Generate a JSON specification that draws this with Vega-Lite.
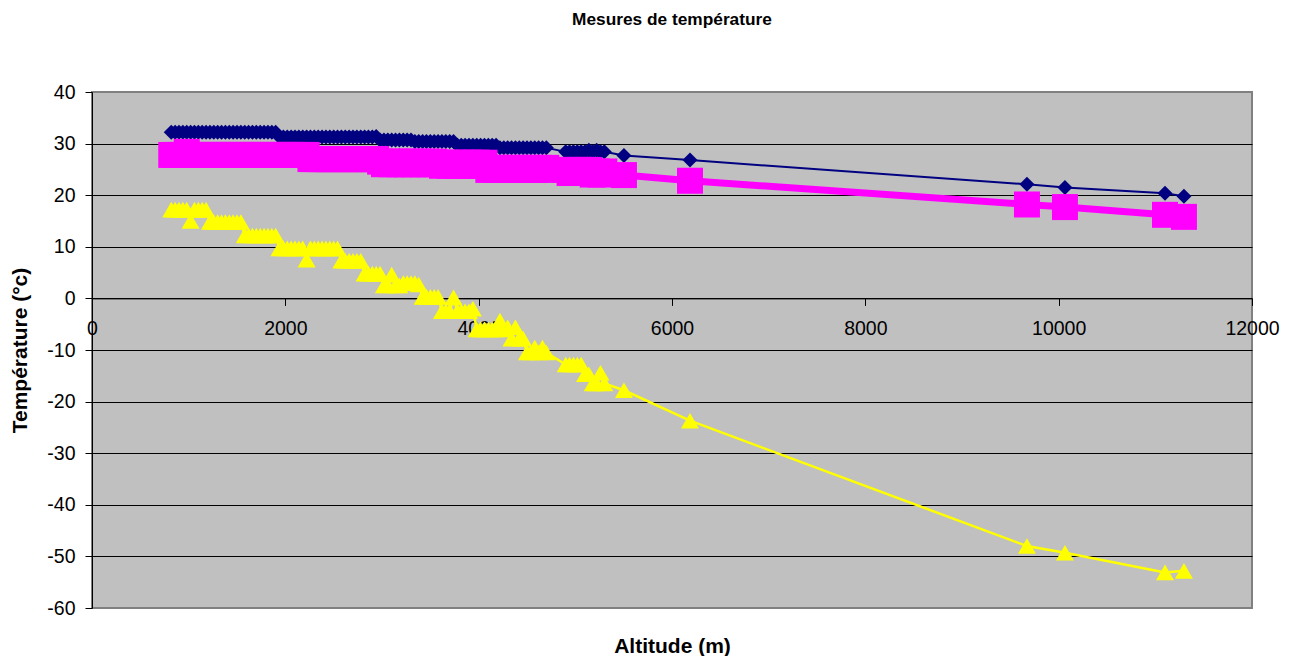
{
 "$schema": "https://vega.github.io/schema/vega-lite/v6.json",
 "width": 1160,
 "height": 516,
 "autosize": "none",
 "padding": {"left": 92, "top": 92, "right": 46, "bottom": 48},
 "background": "white",
 "config": {"view": {"fill": "#C0C0C0", "stroke": "#808080", "strokeWidth": 2}, "font": "Liberation Sans"},
 "title": {"text": "Mesures de température", "fontSize": 17.3, "fontWeight": "bold", "font": "Liberation Sans", "color": "black", "anchor": "middle", "offset": 54},
 "data": {"values": [
{"s":"Série1","a":820,"t":32.2},{"s":"Série1","a":860,"t":32.2},{"s":"Série1","a":900,"t":32.2},{"s":"Série1","a":940,"t":32.2},{"s":"Série1","a":980,"t":32.2},{"s":"Série1","a":1020,"t":32.2},{"s":"Série1","a":1060,"t":32.2},{"s":"Série1","a":1100,"t":32.2},{"s":"Série1","a":1140,"t":32.2},{"s":"Série1","a":1180,"t":32.2},
{"s":"Série1","a":1220,"t":32.2},{"s":"Série1","a":1260,"t":32.2},{"s":"Série1","a":1300,"t":32.2},{"s":"Série1","a":1340,"t":32.2},{"s":"Série1","a":1380,"t":32.2},{"s":"Série1","a":1420,"t":32.2},{"s":"Série1","a":1460,"t":32.2},{"s":"Série1","a":1500,"t":32.2},{"s":"Série1","a":1540,"t":32.2},{"s":"Série1","a":1580,"t":32.2},
{"s":"Série1","a":1620,"t":32.2},{"s":"Série1","a":1660,"t":32.2},{"s":"Série1","a":1700,"t":32.2},{"s":"Série1","a":1740,"t":32.2},{"s":"Série1","a":1780,"t":32.2},{"s":"Série1","a":1820,"t":32.2},{"s":"Série1","a":1860,"t":32.2},{"s":"Série1","a":1900,"t":32.2},{"s":"Série1","a":1940,"t":31.3},{"s":"Série1","a":1980,"t":31.3},
{"s":"Série1","a":2020,"t":31.3},{"s":"Série1","a":2060,"t":31.3},{"s":"Série1","a":2100,"t":31.3},{"s":"Série1","a":2140,"t":31.3},{"s":"Série1","a":2180,"t":31.3},{"s":"Série1","a":2220,"t":31.3},{"s":"Série1","a":2260,"t":31.3},{"s":"Série1","a":2300,"t":31.3},{"s":"Série1","a":2340,"t":31.3},{"s":"Série1","a":2380,"t":31.3},
{"s":"Série1","a":2420,"t":31.3},{"s":"Série1","a":2460,"t":31.3},{"s":"Série1","a":2500,"t":31.3},{"s":"Série1","a":2540,"t":31.3},{"s":"Série1","a":2580,"t":31.3},{"s":"Série1","a":2620,"t":31.3},{"s":"Série1","a":2660,"t":31.3},{"s":"Série1","a":2700,"t":31.3},{"s":"Série1","a":2740,"t":31.3},{"s":"Série1","a":2780,"t":31.3},
{"s":"Série1","a":2820,"t":31.3},{"s":"Série1","a":2860,"t":31.3},{"s":"Série1","a":2900,"t":31.3},{"s":"Série1","a":2940,"t":31.4},{"s":"Série1","a":2980,"t":30.7},{"s":"Série1","a":3020,"t":30.7},{"s":"Série1","a":3060,"t":30.7},{"s":"Série1","a":3100,"t":30.7},{"s":"Série1","a":3140,"t":30.7},{"s":"Série1","a":3180,"t":30.7},
{"s":"Série1","a":3220,"t":30.7},{"s":"Série1","a":3260,"t":30.7},{"s":"Série1","a":3300,"t":30.7},{"s":"Série1","a":3340,"t":30.4},{"s":"Série1","a":3380,"t":30.4},{"s":"Série1","a":3420,"t":30.4},{"s":"Série1","a":3460,"t":30.4},{"s":"Série1","a":3500,"t":30.4},{"s":"Série1","a":3540,"t":30.4},{"s":"Série1","a":3580,"t":30.4},
{"s":"Série1","a":3620,"t":30.4},{"s":"Série1","a":3660,"t":30.4},{"s":"Série1","a":3700,"t":30.4},{"s":"Série1","a":3740,"t":30.4},{"s":"Série1","a":3780,"t":29.7},{"s":"Série1","a":3820,"t":29.7},{"s":"Série1","a":3860,"t":29.7},{"s":"Série1","a":3900,"t":29.7},{"s":"Série1","a":3940,"t":29.7},{"s":"Série1","a":3980,"t":29.7},
{"s":"Série1","a":4020,"t":29.7},{"s":"Série1","a":4060,"t":29.7},{"s":"Série1","a":4100,"t":29.7},{"s":"Série1","a":4140,"t":29.7},{"s":"Série1","a":4180,"t":29.7},{"s":"Série1","a":4220,"t":29.2},{"s":"Série1","a":4260,"t":29.2},{"s":"Série1","a":4300,"t":29.2},{"s":"Série1","a":4340,"t":29.2},{"s":"Série1","a":4380,"t":29.2},
{"s":"Série1","a":4420,"t":29.2},{"s":"Série1","a":4460,"t":29.2},{"s":"Série1","a":4500,"t":29.2},{"s":"Série1","a":4540,"t":29.2},{"s":"Série1","a":4580,"t":29.2},{"s":"Série1","a":4620,"t":29.2},{"s":"Série1","a":4660,"t":29.2},{"s":"Série1","a":4700,"t":29.2},
{"s":"Série1","a":4900,"t":28.4},{"s":"Série1","a":4940,"t":28.4},{"s":"Série1","a":4980,"t":28.4},{"s":"Série1","a":5020,"t":28.4},{"s":"Série1","a":5060,"t":28.4},{"s":"Série1","a":5100,"t":28.4},{"s":"Série1","a":5140,"t":28.7},{"s":"Série1","a":5180,"t":28.4},{"s":"Série1","a":5220,"t":28.7},{"s":"Série1","a":5260,"t":28.4},{"s":"Série1","a":5300,"t":28.4},
{"s":"Série1","a":5503,"t":27.7},{"s":"Série1","a":6186,"t":26.8},{"s":"Série1","a":9672,"t":22.1},{"s":"Série1","a":10065,"t":21.5},{"s":"Série1","a":11100,"t":20.4},{"s":"Série1","a":11296,"t":19.8},
{"s":"Série2","a":820,"t":27.8},{"s":"Série2","a":860,"t":27.8},{"s":"Série2","a":900,"t":27.8},{"s":"Série2","a":940,"t":27.8},{"s":"Série2","a":980,"t":28.4},{"s":"Série2","a":1020,"t":27.8},{"s":"Série2","a":1060,"t":27.8},{"s":"Série2","a":1100,"t":27.8},{"s":"Série2","a":1140,"t":27.8},{"s":"Série2","a":1180,"t":27.8},
{"s":"Série2","a":1220,"t":27.8},{"s":"Série2","a":1260,"t":27.8},{"s":"Série2","a":1300,"t":27.8},{"s":"Série2","a":1340,"t":27.8},{"s":"Série2","a":1380,"t":27.8},{"s":"Série2","a":1420,"t":27.8},{"s":"Série2","a":1460,"t":27.8},{"s":"Série2","a":1500,"t":27.8},{"s":"Série2","a":1540,"t":27.8},{"s":"Série2","a":1580,"t":27.8},
{"s":"Série2","a":1620,"t":27.8},{"s":"Série2","a":1660,"t":27.8},{"s":"Série2","a":1700,"t":27.8},{"s":"Série2","a":1740,"t":27.8},{"s":"Série2","a":1780,"t":27.8},{"s":"Série2","a":1820,"t":27.8},{"s":"Série2","a":1860,"t":27.8},{"s":"Série2","a":1900,"t":27.8},{"s":"Série2","a":1940,"t":27.8},{"s":"Série2","a":1980,"t":27.8},
{"s":"Série2","a":2020,"t":27.8},{"s":"Série2","a":2060,"t":27.8},{"s":"Série2","a":2100,"t":27.8},{"s":"Série2","a":2140,"t":27.8},{"s":"Série2","a":2180,"t":27.8},{"s":"Série2","a":2220,"t":27.8},{"s":"Série2","a":2260,"t":27.0},{"s":"Série2","a":2300,"t":27.0},{"s":"Série2","a":2340,"t":27.0},{"s":"Série2","a":2380,"t":27.0},
{"s":"Série2","a":2420,"t":27.0},{"s":"Série2","a":2460,"t":27.0},{"s":"Série2","a":2500,"t":27.0},{"s":"Série2","a":2540,"t":27.0},{"s":"Série2","a":2580,"t":27.0},{"s":"Série2","a":2620,"t":27.0},{"s":"Série2","a":2660,"t":27.0},{"s":"Série2","a":2700,"t":27.0},{"s":"Série2","a":2740,"t":27.0},{"s":"Série2","a":2780,"t":27.0},
{"s":"Série2","a":2820,"t":27.0},{"s":"Série2","a":2860,"t":27.0},{"s":"Série2","a":2900,"t":27.0},{"s":"Série2","a":2940,"t":27.0},{"s":"Série2","a":2980,"t":26.5},{"s":"Série2","a":3020,"t":26.0},{"s":"Série2","a":3060,"t":26.5},{"s":"Série2","a":3100,"t":26.0},{"s":"Série2","a":3140,"t":26.5},{"s":"Série2","a":3180,"t":26.0},
{"s":"Série2","a":3220,"t":26.5},{"s":"Série2","a":3260,"t":26.0},{"s":"Série2","a":3300,"t":26.5},{"s":"Série2","a":3340,"t":26.0},{"s":"Série2","a":3380,"t":26.5},{"s":"Série2","a":3420,"t":26.0},{"s":"Série2","a":3460,"t":26.5},{"s":"Série2","a":3500,"t":26.0},{"s":"Série2","a":3540,"t":26.5},{"s":"Série2","a":3580,"t":26.3},
{"s":"Série2","a":3620,"t":25.7},{"s":"Série2","a":3660,"t":26.3},{"s":"Série2","a":3700,"t":25.7},{"s":"Série2","a":3740,"t":26.3},{"s":"Série2","a":3780,"t":25.7},{"s":"Série2","a":3820,"t":26.3},{"s":"Série2","a":3860,"t":25.7},{"s":"Série2","a":3900,"t":26.3},{"s":"Série2","a":3940,"t":25.7},{"s":"Série2","a":3980,"t":26.3},
{"s":"Série2","a":4020,"t":25.7},{"s":"Série2","a":4060,"t":26.3},{"s":"Série2","a":4100,"t":24.9},{"s":"Série2","a":4140,"t":25.3},{"s":"Série2","a":4180,"t":24.9},{"s":"Série2","a":4220,"t":25.3},{"s":"Série2","a":4260,"t":24.9},{"s":"Série2","a":4300,"t":25.3},{"s":"Série2","a":4340,"t":24.9},{"s":"Série2","a":4380,"t":25.3},
{"s":"Série2","a":4420,"t":24.9},{"s":"Série2","a":4460,"t":25.3},{"s":"Série2","a":4500,"t":24.9},{"s":"Série2","a":4540,"t":25.3},{"s":"Série2","a":4580,"t":24.9},{"s":"Série2","a":4620,"t":25.3},{"s":"Série2","a":4660,"t":24.9},{"s":"Série2","a":4700,"t":25.3},
{"s":"Série2","a":4900,"t":24.9},{"s":"Série2","a":4940,"t":24.3},{"s":"Série2","a":4980,"t":24.9},{"s":"Série2","a":5020,"t":24.3},{"s":"Série2","a":5060,"t":24.9},{"s":"Série2","a":5100,"t":24.3},{"s":"Série2","a":5140,"t":24.9},{"s":"Série2","a":5180,"t":24.0},{"s":"Série2","a":5220,"t":24.6},{"s":"Série2","a":5260,"t":24.0},{"s":"Série2","a":5300,"t":24.6},
{"s":"Série2","a":5503,"t":23.9},{"s":"Série2","a":6186,"t":22.8},{"s":"Série2","a":9672,"t":18.2},{"s":"Série2","a":10065,"t":17.7},{"s":"Série2","a":11100,"t":16.2},{"s":"Série2","a":11296,"t":15.8},
{"s":"Série3","a":820,"t":17.2},{"s":"Série3","a":860,"t":17.2},{"s":"Série3","a":900,"t":17.2},{"s":"Série3","a":940,"t":17.2},{"s":"Série3","a":980,"t":17.2},{"s":"Série3","a":1020,"t":15.0},{"s":"Série3","a":1060,"t":17.2},{"s":"Série3","a":1100,"t":17.2},{"s":"Série3","a":1140,"t":17.2},{"s":"Série3","a":1180,"t":17.2},
{"s":"Série3","a":1220,"t":14.8},{"s":"Série3","a":1260,"t":14.8},{"s":"Série3","a":1300,"t":14.8},{"s":"Série3","a":1340,"t":14.8},{"s":"Série3","a":1380,"t":14.8},{"s":"Série3","a":1420,"t":14.8},{"s":"Série3","a":1460,"t":14.8},{"s":"Série3","a":1500,"t":14.8},{"s":"Série3","a":1540,"t":14.8},{"s":"Série3","a":1580,"t":12.2},
{"s":"Série3","a":1620,"t":12.2},{"s":"Série3","a":1660,"t":12.2},{"s":"Série3","a":1700,"t":12.2},{"s":"Série3","a":1740,"t":12.2},{"s":"Série3","a":1780,"t":12.2},{"s":"Série3","a":1820,"t":12.2},{"s":"Série3","a":1860,"t":12.2},{"s":"Série3","a":1900,"t":12.2},{"s":"Série3","a":1940,"t":9.7},{"s":"Série3","a":1980,"t":9.7},
{"s":"Série3","a":2020,"t":9.7},{"s":"Série3","a":2060,"t":9.7},{"s":"Série3","a":2100,"t":9.7},{"s":"Série3","a":2140,"t":9.7},{"s":"Série3","a":2180,"t":9.7},{"s":"Série3","a":2220,"t":7.5},{"s":"Série3","a":2260,"t":9.7},{"s":"Série3","a":2300,"t":9.7},{"s":"Série3","a":2340,"t":9.7},{"s":"Série3","a":2380,"t":9.7},
{"s":"Série3","a":2420,"t":9.7},{"s":"Série3","a":2460,"t":9.7},{"s":"Série3","a":2500,"t":9.7},{"s":"Série3","a":2540,"t":9.7},{"s":"Série3","a":2580,"t":7.3},{"s":"Série3","a":2620,"t":7.3},{"s":"Série3","a":2660,"t":7.3},{"s":"Série3","a":2700,"t":7.3},{"s":"Série3","a":2740,"t":7.3},{"s":"Série3","a":2780,"t":7.3},
{"s":"Série3","a":2820,"t":4.8},{"s":"Série3","a":2860,"t":4.8},{"s":"Série3","a":2900,"t":4.8},{"s":"Série3","a":2940,"t":4.8},{"s":"Série3","a":2980,"t":4.8},{"s":"Série3","a":3020,"t":2.5},{"s":"Série3","a":3060,"t":2.5},{"s":"Série3","a":3100,"t":4.6},{"s":"Série3","a":3140,"t":2.5},{"s":"Série3","a":3180,"t":2.5},
{"s":"Série3","a":3220,"t":3.0},{"s":"Série3","a":3260,"t":3.0},{"s":"Série3","a":3300,"t":3.0},{"s":"Série3","a":3340,"t":3.0},{"s":"Série3","a":3380,"t":2.7},{"s":"Série3","a":3420,"t":0.3},{"s":"Série3","a":3460,"t":0.3},{"s":"Série3","a":3500,"t":0.3},{"s":"Série3","a":3540,"t":0.3},{"s":"Série3","a":3580,"t":0.3},
{"s":"Série3","a":3620,"t":-2.5},{"s":"Série3","a":3660,"t":-2.5},{"s":"Série3","a":3700,"t":-2.5},{"s":"Série3","a":3740,"t":0.2},{"s":"Série3","a":3780,"t":-2.5},{"s":"Série3","a":3820,"t":-2.5},{"s":"Série3","a":3860,"t":-2.5},{"s":"Série3","a":3900,"t":-2.5},{"s":"Série3","a":3940,"t":-2.0},{"s":"Série3","a":3980,"t":-6.0},
{"s":"Série3","a":4020,"t":-6.0},{"s":"Série3","a":4060,"t":-6.0},{"s":"Série3","a":4100,"t":-6.0},{"s":"Série3","a":4140,"t":-6.0},{"s":"Série3","a":4180,"t":-6.0},{"s":"Série3","a":4220,"t":-4.3},{"s":"Série3","a":4260,"t":-6.0},{"s":"Série3","a":4300,"t":-5.6},{"s":"Série3","a":4340,"t":-7.8},{"s":"Série3","a":4380,"t":-5.6},
{"s":"Série3","a":4420,"t":-7.8},{"s":"Série3","a":4460,"t":-7.8},{"s":"Série3","a":4500,"t":-10.5},{"s":"Série3","a":4540,"t":-10.5},{"s":"Série3","a":4580,"t":-9.5},{"s":"Série3","a":4620,"t":-10.5},{"s":"Série3","a":4660,"t":-9.5},{"s":"Série3","a":4700,"t":-10.5},
{"s":"Série3","a":4900,"t":-12.8},{"s":"Série3","a":4940,"t":-12.8},{"s":"Série3","a":4980,"t":-12.8},{"s":"Série3","a":5020,"t":-12.8},{"s":"Série3","a":5060,"t":-12.8},{"s":"Série3","a":5100,"t":-14.7},{"s":"Série3","a":5140,"t":-14.7},{"s":"Série3","a":5180,"t":-16.5},{"s":"Série3","a":5220,"t":-16.5},{"s":"Série3","a":5260,"t":-14.4},{"s":"Série3","a":5300,"t":-16.5},
{"s":"Série3","a":5503,"t":-17.8},{"s":"Série3","a":6186,"t":-23.7},{"s":"Série3","a":9672,"t":-48.0},{"s":"Série3","a":10065,"t":-49.3},{"s":"Série3","a":11100,"t":-53.1},{"s":"Série3","a":11296,"t":-52.8}
 ]},
 "encoding": {
  "x": {"field": "a", "type": "quantitative", "scale": {"domain": [0, 12000], "nice": false},
   "axis": {"values": [0, 2000, 4000, 6000, 8000, 10000, 12000], "grid": false, "offset": -309.6, "domainColor": "black", "domainWidth": 1, "tickColor": "black", "tickSize": 7, "labelFontSize": 19.5, "labelColor": "black", "labelPadding": 14, "labelFlush": false, "labelOverlap": false, "format": "d", "title": "Altitude (m)", "titleFontSize": 21, "titleFontWeight": "bold", "titleColor": "black", "titleX": 580, "titleY": 348, "titleBaseline": "middle", "titleAlign": "center"}},
  "y": {"field": "t", "type": "quantitative", "scale": {"domain": [-60, 40], "nice": false, "zero": false},
   "axis": {"values": [-60, -50, -40, -30, -20, -10, 0, 10, 20, 30, 40], "grid": true, "gridColor": {"condition": {"test": "datum.value === 40 || datum.value === -60", "value": "#808080"}, "value": "black"}, "gridWidth": 1, "gridOpacity": 1, "domainColor": "black", "domainWidth": 1, "tickColor": "black", "tickSize": 7, "labelFontSize": 19.5, "labelColor": "black", "labelPadding": 10, "labelFlush": false, "labelOverlap": false, "labelExpr": "'' + datum.value", "title": "Température (°c)", "titleFontSize": 21, "titleFontWeight": "bold", "titleColor": "black", "titleX": -72, "titleY": 258, "titleAngle": 270, "titleBaseline": "middle", "titleAlign": "center"}}
 },
 "layer": [
  {"transform": [{"filter": "datum.s === 'Série1'"}], "mark": {"type": "line", "color": "#000080", "strokeWidth": 2}, "encoding": {}},
  {"transform": [{"filter": "datum.s === 'Série1'"}], "mark": {"type": "point", "shape": "diamond", "size": 225, "filled": true, "opacity": 1, "color": "#000080"}, "encoding": {}},
  {"transform": [{"filter": "datum.s === 'Série2'"}], "mark": {"type": "line", "color": "#FF00FF", "strokeWidth": 7}, "encoding": {}},
  {"transform": [{"filter": "datum.s === 'Série2'"}], "mark": {"type": "point", "shape": "square", "size": 676, "filled": true, "opacity": 1, "color": "#FF00FF"}, "encoding": {}},
  {"transform": [{"filter": "datum.s === 'Série3'"}], "mark": {"type": "line", "color": "#FFFF00", "strokeWidth": 2.5}, "encoding": {}},
  {"transform": [{"filter": "datum.s === 'Série3'"}], "mark": {"type": "point", "shape": "triangle-up", "size": 324, "filled": true, "opacity": 1, "color": "#FFFF00"}, "encoding": {}}
 ]
}
